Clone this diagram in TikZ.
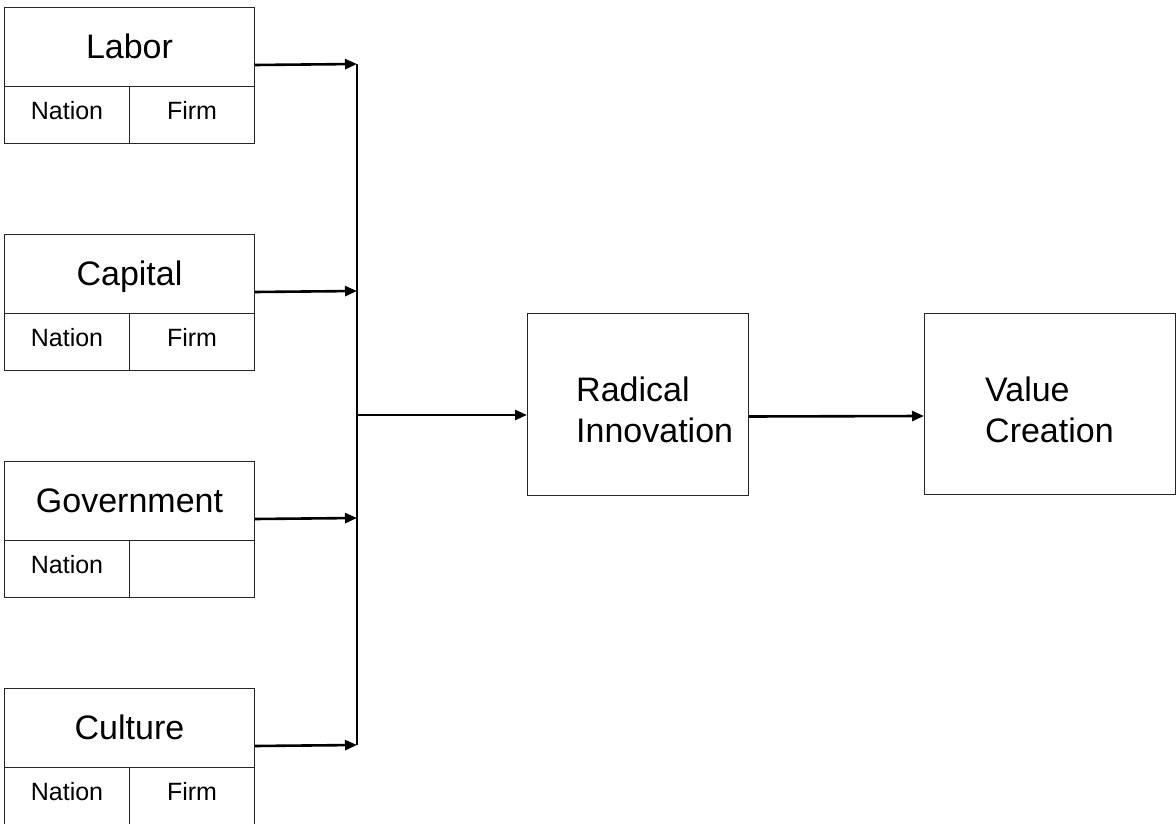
\documentclass[tikz,border=0pt]{standalone}
\usepackage{fontspec}
\setmainfont{Liberation Sans}
\usetikzlibrary{arrows.meta}
\begin{document}
\begin{tikzpicture}[x=1pt,y=-1pt,
  cell/.style={draw=black!85,line width=1pt,inner sep=0pt,anchor=north west},
  topcell/.style={cell,minimum width=250pt,minimum height=79pt,text height=23pt,text depth=0pt,font=\fontsize{34}{40}\selectfont},
  subcell/.style={cell,minimum width=125pt,minimum height=57pt,text height=18pt,text depth=9pt,font=\fontsize{25}{30}\selectfont},
  radbox/.style={cell,minimum width=221pt,minimum height=182pt},
  valbox/.style={cell,minimum width=251pt,minimum height=181pt},
  bigtext/.style={inner sep=0pt,anchor=west,align=left,font=\fontsize{34}{41}\selectfont},
  feed/.style={line width=2.6pt,-{Triangle[length=12pt,width=10pt]}},
  bus/.style={line width=1.4pt}]
\useasboundingbox (0,0) rectangle (1176,824);
% factor boxes
\node[topcell] (labT) at (4,7) {Labor};
\node[subcell] (labN) at (4,86) {Nation};
\node[subcell] (labF) at (129,86) {Firm};
\node[topcell] (capT) at (4,234) {Capital};
\node[subcell] (capN) at (4,313) {Nation};
\node[subcell] (capF) at (129,313) {Firm};
\node[topcell] (govT) at (4,461) {Government};
\node[subcell] (govN) at (4,540) {Nation};
\node[subcell] (govF) at (129,540) {};
\node[topcell] (culT) at (4,688) {Culture};
\node[subcell] (culN) at (4,767) {Nation};
\node[subcell] (culF) at (129,767) {Firm};
% outcome boxes
\node[radbox] (rad) at (527,313) {};
\node[bigtext] (radT) at (576,410) {Radical\\Innovation};
\node[valbox] (val) at (924,313) {};
\node[bigtext] (valT) at (985,410) {Value\\Creation};
% bus coordinates
\coordinate (b1) at (357,64);
\coordinate (b2) at (357,291);
\coordinate (b3) at (357,518);
\coordinate (b4) at (357,745);
\coordinate (bm) at (357,415);
\draw[bus] (b1) -- (b4);
\draw[feed] ([yshift=22pt]labT.south east) -- (b1);
\draw[feed] ([yshift=22pt]capT.south east) -- (b2);
\draw[feed] ([yshift=22pt]govT.south east) -- (b3);
\draw[feed] ([yshift=22pt]culT.south east) -- (b4);
\draw[feed] (bm) -- (bm -| rad.west);
\draw[feed] ([yshift=-12pt]rad.east) -- ([yshift=-12pt]val.west);
\end{tikzpicture}
\end{document}
